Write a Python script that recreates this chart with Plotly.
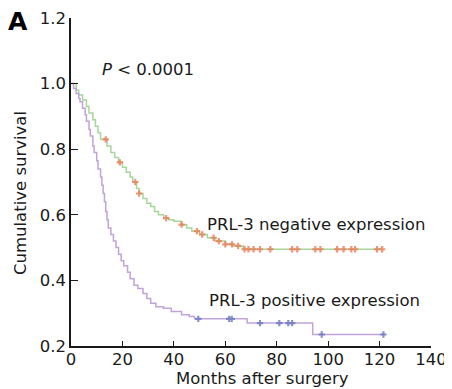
import plotly.graph_objects as go
import numpy as np

# Kaplan-Meier step data (months, cumulative survival)
neg_times = [0, 2, 3, 4.5, 6, 7, 8.5, 9.5, 10.5, 11.5, 14, 15.5, 17, 18.5, 20, 21.5, 23, 24, 25.5, 26.5,
             28, 29.5, 31, 32.5, 34, 36, 38, 40, 43, 45, 47, 50, 53, 56, 60, 63, 67, 121]
neg_surv = [1.0, 0.98, 0.965, 0.95, 0.93, 0.91, 0.89, 0.87, 0.85, 0.83, 0.81, 0.79, 0.775, 0.76, 0.745,
            0.73, 0.715, 0.70, 0.68, 0.665, 0.65, 0.635, 0.625, 0.61, 0.60, 0.59, 0.585, 0.58, 0.57,
            0.56, 0.55, 0.54, 0.53, 0.52, 0.51, 0.505, 0.495, 0.495]
neg_censored = [13.5, 19, 25, 26.5, 37, 43, 49, 51, 55.5, 57.5, 60, 62.6, 65, 67.5, 69, 71, 73.5, 77.5,
                86, 88, 95, 97, 103.5, 106, 109, 110.5, 119, 121]

pos_times = [0, 1, 2, 3, 3.5, 4.5, 5.5, 6, 7, 7.5, 8.5, 9, 10, 10.5, 11.5, 12, 12.5, 13, 13.5, 14, 14.5,
             15.5, 16.5, 17.5, 18.5, 19.5, 20.5, 22, 23, 24.5, 26, 28, 29.5, 31, 33, 36, 39, 43, 46, 48,
             68.5, 94, 122]
pos_surv = [1.0, 0.985, 0.97, 0.955, 0.945, 0.925, 0.905, 0.885, 0.86, 0.84, 0.81, 0.79, 0.765, 0.74,
            0.715, 0.69, 0.665, 0.64, 0.61, 0.585, 0.56, 0.54, 0.52, 0.50, 0.48, 0.46, 0.445, 0.425,
            0.405, 0.385, 0.375, 0.36, 0.345, 0.33, 0.32, 0.315, 0.305, 0.295, 0.29, 0.283, 0.27, 0.235,
            0.235]
pos_censored = [49.5, 61.5, 62.5, 73.5, 81, 84.5, 86, 97.5, 121.5]

x_ticks = [0, 20, 40, 60, 80, 100, 120, 140]
y_ticks = [0.2, 0.4, 0.6, 0.8, 1.0, 1.2]


def step_value(times, surv, t):
    idx = np.searchsorted(np.array(times), t, side="right") - 1
    return surv[max(idx, 0)]


FONT = "DejaVu Sans"
FS = 16.5
fig = go.Figure()

fig.add_trace(go.Scatter(x=neg_times, y=neg_surv, mode="lines", line_shape="hv",
                         line=dict(color="#a6d69a", width=1.5), hoverinfo="skip"))
fig.add_trace(go.Scatter(x=pos_times, y=pos_surv, mode="lines", line_shape="hv",
                         line=dict(color="#c1a3da", width=1.5), hoverinfo="skip"))
fig.add_trace(go.Scatter(x=neg_censored, y=[step_value(neg_times, neg_surv, t) for t in neg_censored],
                         mode="markers",
                         marker=dict(symbol="cross-thin-open", size=4.5, color="#ec7a55",
                                     line=dict(color="#ec7a55", width=2.2)),
                         opacity=0.8, hoverinfo="skip"))
fig.add_trace(go.Scatter(x=pos_censored, y=[step_value(pos_times, pos_surv, t) for t in pos_censored],
                         mode="markers",
                         marker=dict(symbol="cross-thin-open", size=4.5, color="#6878bc",
                                     line=dict(color="#6878bc", width=2.2)),
                         opacity=0.8, hoverinfo="skip"))

fig.update_layout(
    width=444, height=381,
    margin=dict(l=63, r=21, t=10, b=43),
    paper_bgcolor="white", plot_bgcolor="white",
    showlegend=False,
    font=dict(family=FONT, size=FS, color="#1a1a1a"),
    xaxis=dict(range=[0, 140], tickvals=x_ticks, ticktext=[str(v) for v in x_ticks],
               automargin=False, ticklabelstandoff=-3,
               showgrid=False, zeroline=False, showline=True, linecolor="#1a1a1a", linewidth=1.5,
               ticks="inside", ticklen=5, tickwidth=1.3, tickcolor="#1a1a1a",
               tickfont=dict(size=FS, family=FONT)),
    yaxis=dict(range=[0.2, 1.2], tickvals=y_ticks, ticktext=["%.1f" % v for v in y_ticks],
               automargin=False,
               showgrid=False, zeroline=False, showline=True, linecolor="#1a1a1a", linewidth=1.5,
               ticks="inside", ticklen=7, tickwidth=1.3, tickcolor="#1a1a1a",
               tickfont=dict(size=FS, family=FONT)),
    annotations=[
        dict(text="Cumulative survival", xref="paper", yref="paper", x=-0.142, y=0.466,
             textangle=-90, showarrow=False, font=dict(size=FS, family=FONT),
             xanchor="center", yanchor="middle"),
        dict(text="Months after surgery", xref="paper", yref="paper", x=0.533, y=-0.1006,
             showarrow=False, font=dict(size=FS, family=FONT), xanchor="center", yanchor="middle"),
        dict(text="<b>A</b>", xref="paper", yref="paper", x=-0.148, y=0.988,
             showarrow=False, font=dict(size=25, family=FONT, color="black"),
             xanchor="center", yanchor="middle"),
        dict(text="<i>P</i> < 0.0001", xref="x", yref="y", x=30, y=1.043,
             showarrow=False, font=dict(size=FS, family=FONT), xanchor="center", yanchor="middle"),
        dict(text="PRL-3 negative expression", xref="x", yref="y", x=95.3, y=0.569,
             showarrow=False, font=dict(size=FS, family=FONT), xanchor="center", yanchor="middle"),
        dict(text="PRL-3 positive expression", xref="x", yref="y", x=94.5, y=0.340,
             showarrow=False, font=dict(size=FS, family=FONT), xanchor="center", yanchor="middle"),
    ],
)

fig.write_html("out.html")
